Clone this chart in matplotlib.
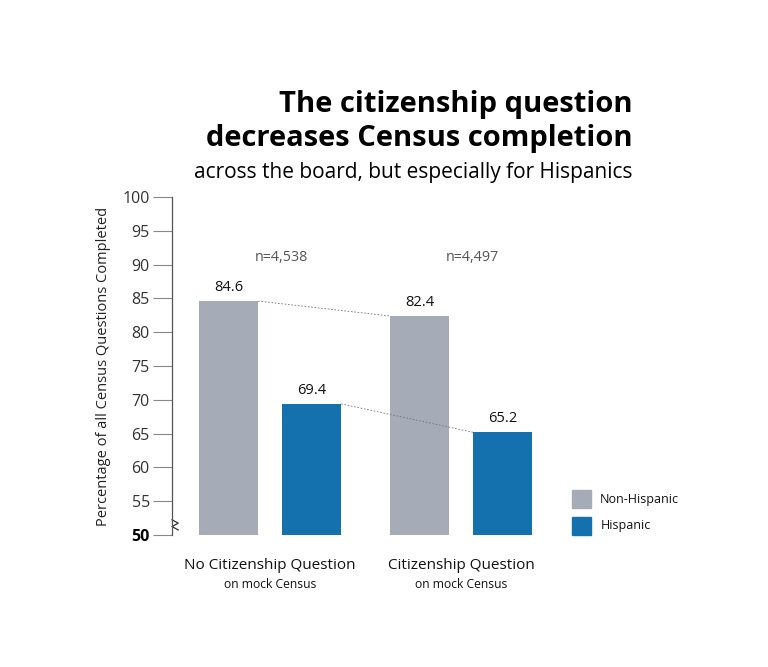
import matplotlib.pyplot as plt
import numpy as np

# data
groups = ['No Citizenship Question', 'Citizenship Question']
sublabels = ['on mock Census', 'on mock Census']
non_hispanic = [84.6, 82.4]
hispanic = [69.4, 65.2]
n_labels = ['n=4,538', 'n=4,497']
yticks = [50, 55, 60, 65, 70, 75, 80, 85, 90, 95, 100]

gray = '#a5abb7'
blue = '#1570ae'
txt = '#111111'

plt.rcParams['font.family'] = ['Open Sans', 'DejaVu Sans']

fig = plt.figure(figsize=(7.68, 6.67), dpi=100)
ax = fig.add_axes([172 / 768, 132 / 667, 388 / 768, 338 / 667])

x = np.arange(len(groups))
w = 0.31
off = 0.217
ax.bar(x - off, non_hispanic, w, color=gray)
ax.bar(x + off, hispanic, w, color=blue)

# value labels
for i in range(len(groups)):
    ax.text(x[i] - off, non_hispanic[i] + 0.9, f'{non_hispanic[i]:.1f}',
            ha='center', va='bottom', fontsize=10.5, color=txt)
    ax.text(x[i] + off, hispanic[i] + 0.9, f'{hispanic[i]:.1f}',
            ha='center', va='bottom', fontsize=10.5, color=txt)
    ax.text(x[i] + 0.06, 91, n_labels[i], ha='center', va='center',
            fontsize=10.3, color='#555555')

# dashed connectors
ax.plot([x[0] - off + w / 2, x[1] - off - w / 2], non_hispanic,
        ls=(0, (2, 2)), lw=0.6, color='#777777')
ax.plot([x[0] + off + w / 2, x[1] + off - w / 2], hispanic,
        ls=(0, (2, 2)), lw=0.6, color='#777777')

ax.set_ylim(50, 100)
ax.set_xlim(-0.513, 1.518)
ax.set_yticks(yticks)
ax.set_yticklabels([str(t) for t in yticks], fontsize=11.5, color='#333333')
ax.get_yticklabels()[0].set_fontweight('bold')
ax.get_yticklabels()[0].set_color('#000000')
ax.tick_params(axis='y', length=14, width=0.8, color='#888888', pad=2)
ax.set_xticks([])
for s in ['top', 'right', 'bottom']:
    ax.spines[s].set_visible(False)
ax.spines['left'].set_color('#555555')
ax.spines['left'].set_linewidth(0.9)

# axis break mark
ax.plot([0.0, 0.016, 0.0, 0.016], [0.045, 0.035, 0.025, 0.015],
        transform=ax.transAxes, color='#333333', lw=0.9, clip_on=False)

ax.set_ylabel('Percentage of all Census Questions Completed', fontsize=10.5,
              color='#222222')
ax.yaxis.set_label_coords(-0.156, 0.5)

# category labels
for i in range(len(groups)):
    ax.text(x[i], 45.5, groups[i], ha='center', va='center', fontsize=11, color=txt)
    ax.text(x[i], 42.7, sublabels[i], ha='center', va='center', fontsize=8.7, color=txt)

# legend
fig.patches.append(plt.Rectangle((572 / 768, 1 - 508 / 667), 19 / 768, 18 / 667,
                                 transform=fig.transFigure, color=gray))
fig.patches.append(plt.Rectangle((572 / 768, 1 - 535 / 667), 19 / 768, 18 / 667,
                                 transform=fig.transFigure, color=blue))
fig.text(600 / 768, 1 - 499 / 667, 'Non-Hispanic', fontsize=9, va='center', color=txt)
fig.text(601 / 768, 1 - 526 / 667, 'Hispanic', fontsize=9, va='center', color=txt)

# titles
fig.text(633 / 768, 1 - 112 / 667, 'The citizenship question', ha='right',
         va='baseline', fontsize=21, fontweight='bold', color='#000000')
fig.text(633 / 768, 1 - 146 / 667, 'decreases Census completion', ha='right',
         va='baseline', fontsize=21, fontweight='bold', color='#000000')
fig.text(633 / 768, 1 - 178 / 667, 'across the board, but especially for Hispanics',
         ha='right', va='baseline', fontsize=15, color='#000000')

fig.savefig('out.png', dpi=100)
